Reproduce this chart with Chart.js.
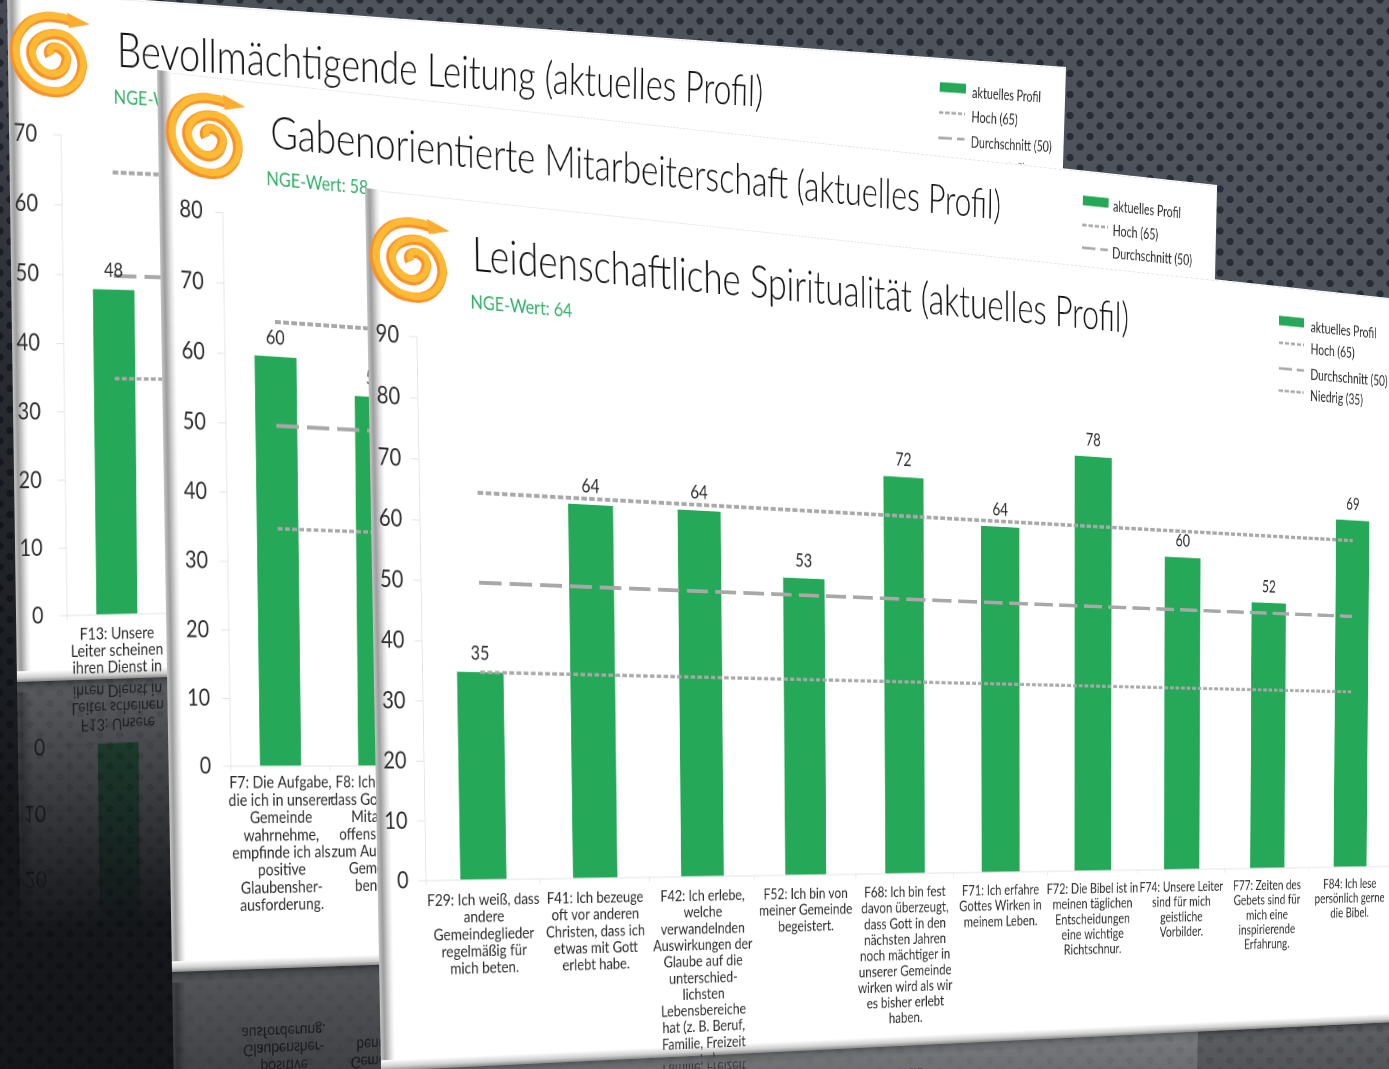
<!DOCTYPE html>
<html>
<head>
<meta charset="utf-8">
<title>NGE Profil</title>
<script src="https://cdn.jsdelivr.net/npm/chart.js@4/dist/chart.umd.min.js"></script>
<style>
html, body { margin: 0; width: 1389px; height: 1069px; overflow: hidden; }
body {
    position: relative;
    background-color: #4e525b;
    background-image:
        linear-gradient(200deg, rgba(10,12,15,0) 25%, rgba(10,12,15,.55) 55%, rgba(10,12,15,.85) 85%),
        radial-gradient(circle at center, #282c36 3.3px, rgba(40,44,54,0) 4px),
        radial-gradient(circle at center, #282c36 3.3px, rgba(40,44,54,0) 4px);
    background-size: auto, 20px 21px, 20px 21px;
    background-position: 0 0, 0 0, 10px 10.5px;
}
.slide {
    position: absolute; left: 0; top: 0;
    background: #fff;
    overflow: hidden;
    transform-origin: 0 0;
    -webkit-box-reflect: below 0 linear-gradient(to bottom, rgba(255,255,255,0) 62%, rgba(255,255,255,.27) 100%);
}
.slide canvas { position: absolute; left: 0; top: 0; }
.bevelLeft { position: absolute; left: 0; top: 0; bottom: 0; width: 17px; background: linear-gradient(to right, #c4c4c4 0, #9c9c9c 30%, #e4e4e4 75%, #fff 100%); }
.bevelBottom { position: absolute; left: 0; right: 0; bottom: 0; height: 11px; background: linear-gradient(to bottom, #fff 0, #d0d0d0 60%, #8a8a8a 100%); }
.topLine { position: absolute; left: 17px; right: 0; top: 1px; border-top: 1px dotted #dcdcdc; }
.title { position: absolute; font-family: Lato, sans-serif; font-weight: 300; color: #111; white-space: nowrap; transform: translateY(-50%); }
.nge { position: absolute; font: 400 20px Lato, sans-serif; color: #2fae65; white-space: nowrap; transform: translateY(-50%); }
.logo { position: absolute; }
.legendRow { position: absolute; font: 400 17.5px Lato, sans-serif; color: #2a2a2a; white-space: nowrap; transform: translateY(-50%); }
.legendKey { position: absolute; transform: translateY(-50%); }
</style>
</head>
<body>
<script>
var barName = 'aktuelles Profil';
var hochName = 'Hoch (65)';
var mittelName = 'Durchschnitt (50)';
var niedrigName = 'Niedrig (35)';

var title1 = 'Bevollmächtigende Leitung (aktuelles Profil)';
var nge1 = 'NGE-Wert: 48';
var labels1 = [['F13: Unsere', 'Leiter scheinen', 'ihren Dienst in'], ['']];
var values1 = [48, null];
var hoch1 = [65, 65];
var mittel1 = [50, 50];
var niedrig1 = [35, 35];
var yMax1 = 70;

var title2 = 'Gabenorientierte Mitarbeiterschaft (aktuelles Profil)';
var nge2 = 'NGE-Wert: 58';
var labels2 = [
    ['F7: Die Aufgabe,', 'die ich in unserer', 'Gemeinde', 'wahrnehme,', 'empfinde ich als', 'positive', 'Glaubensher-', 'ausforderung.'],
    ['F8: Ich glaube,', 'dass Gott meine', 'Mitarbeit', 'offensichtlich', 'zum Aufbau der', 'Gemeinde', 'benutzt.']
];
var values2 = [60, 55];
var hoch2 = [65, 65];
var mittel2 = [50, 50];
var niedrig2 = [35, 35];
var yMax2 = 80;

var title3 = 'Leidenschaftliche Spiritualität (aktuelles Profil)';
var nge3 = 'NGE-Wert: 64';
var labels3 = [
    ['F29: Ich weiß, dass', 'andere', 'Gemeindeglieder', 'regelmäßig für', 'mich beten.'],
    ['F41: Ich bezeuge', 'oft vor anderen', 'Christen, dass ich', 'etwas mit Gott', 'erlebt habe.'],
    ['F42: Ich erlebe,', 'welche', 'verwandelnden', 'Auswirkungen der', 'Glaube auf die', 'unterschied-', 'lichsten', 'Lebensbereiche', 'hat (z. B. Beruf,', 'Familie, Freizeit', 'etc.)'],
    ['F52: Ich bin von', 'meiner Gemeinde', 'begeistert.'],
    ['F68: Ich bin fest', 'davon überzeugt,', 'dass Gott in den', 'nächsten Jahren', 'noch mächtiger in', 'unserer Gemeinde', 'wirken wird als wir', 'es bisher erlebt', 'haben.'],
    ['F71: Ich erfahre', 'Gottes Wirken in', 'meinem Leben.'],
    ['F72: Die Bibel ist in', 'meinen täglichen', 'Entscheidungen', 'eine wichtige', 'Richtschnur.'],
    ['F74: Unsere Leiter', 'sind für mich', 'geistliche', 'Vorbilder.'],
    ['F77: Zeiten des', 'Gebets sind für', 'mich eine', 'inspirierende', 'Erfahrung.'],
    ['F84: Ich lese', 'persönlich gerne', 'die Bibel.']
];
var values3 = [35, 64, 64, 53, 72, 64, 78, 60, 52, 69];
var hoch3 = [65, 65, 65, 65, 65, 65, 65, 65, 65, 65];
var mittel3 = [50, 50, 50, 50, 50, 50, 50, 50, 50, 50];
var niedrig3 = [35, 35, 35, 35, 35, 35, 35, 35, 35, 35];
var yMax3 = 90;

var barColor = '#25a857';
var lineColor = '#a8a8a8';
var textColor = '#2c2c2c';
var axisColor = '#e2e2e2';

// computes the css matrix that maps a w x h box onto four screen corners (tl, tr, br, bl)
function quadMatrix(w, h, q) {
    var dx1 = q[1][0] - q[2][0], dx2 = q[3][0] - q[2][0], sx = q[0][0] - q[1][0] + q[2][0] - q[3][0];
    var dy1 = q[1][1] - q[2][1], dy2 = q[3][1] - q[2][1], sy = q[0][1] - q[1][1] + q[2][1] - q[3][1];
    var det = dx1 * dy2 - dx2 * dy1;
    var g = (sx * dy2 - dx2 * sy) / det;
    var k = (dx1 * sy - sx * dy1) / det;
    var a = q[1][0] - q[0][0] + g * q[1][0];
    var b = q[3][0] - q[0][0] + k * q[3][0];
    var d = q[1][1] - q[0][1] + g * q[1][1];
    var e = q[3][1] - q[0][1] + k * q[3][1];
    return 'matrix3d(' + [a / w, d / w, 0, g / w, b / h, e / h, 0, k / h, 0, 0, 1, 0, q[0][0], q[0][1], 0, 1].join(',') + ')';
}

var valueLabels = {
    id: 'valueLabels',
    afterDatasetsDraw: function(chart) {
        var ctx = chart.ctx;
        var bars = chart.getDatasetMeta(0).data;
        var vals = chart.data.datasets[0].data;
        ctx.save();
        ctx.font = '20px Lato, sans-serif';
        ctx.fillStyle = textColor;
        ctx.textAlign = 'center';
        ctx.textBaseline = 'bottom';
        bars.forEach(function(bar, i) {
            if (vals[i] !== null) {
                ctx.fillText(vals[i], bar.x, bar.y - 9);
            }
        });
        ctx.restore();
    }
};

function spiralLogo(x, y, w, h) {
    var ns = 'http://www.w3.org/2000/svg';
    var svg = document.createElementNS(ns, 'svg');
    svg.setAttribute('viewBox', '0 0 100 100');
    svg.setAttribute('preserveAspectRatio', 'none');
    svg.setAttribute('class', 'logo');
    svg.style.left = x + 'px';
    svg.style.top = y + 'px';
    svg.style.width = w + 'px';
    svg.style.height = h + 'px';
    var d = 'M50 52 C46 44 54 40 60 42 C68 44 72 52 70 58 C68 68 60 74 52 74 C38 74 28 62 27 50 C27 36 42 26 58 26 C76 26 90 44 90 62 C88 82 72 96 52 94 C28 94 8 74 7 50 C7 28 22 10 44 7 C54 5 64 7 76 9';
    [['#f6922a', 12, 0, 0], ['#fdba35', 8, 1.6, -1.6]].forEach(function(s) {
        var p = document.createElementNS(ns, 'path');
        p.setAttribute('d', d);
        p.setAttribute('fill', 'none');
        p.setAttribute('stroke', s[0]);
        p.setAttribute('stroke-width', s[1]);
        p.setAttribute('transform', 'translate(' + s[2] + ' ' + s[3] + ')');
        svg.appendChild(p);
    });
    var head = document.createElementNS(ns, 'polygon');
    head.setAttribute('points', '72,0 100,12 74,18');
    head.setAttribute('fill', '#fbab30');
    svg.appendChild(head);
    return svg;
}

function legendKey(type) {
    var ns = 'http://www.w3.org/2000/svg';
    var svg = document.createElementNS(ns, 'svg');
    svg.setAttribute('width', 42);
    svg.setAttribute('height', 12);
    svg.setAttribute('class', 'legendKey');
    var line = document.createElementNS(ns, 'line');
    line.setAttribute('x1', 0);
    line.setAttribute('x2', 42);
    line.setAttribute('y1', 6);
    line.setAttribute('y2', 6);
    if (type === 0) {
        line.setAttribute('stroke', barColor);
        line.setAttribute('stroke-width', 11);
    } else {
        line.setAttribute('stroke', lineColor);
        line.setAttribute('stroke-width', 3);
        line.setAttribute('stroke-dasharray', type === 2 ? '22 8' : '7 3');
    }
    svg.appendChild(line);
    return svg;
}

function addText(slide, cls, text, x, y) {
    var el = document.createElement('div');
    el.className = cls;
    el.textContent = text;
    el.style.left = x + 'px';
    el.style.top = y + 'px';
    slide.appendChild(el);
    return el;
}

function makeSlide(cfg) {
    var W = cfg.W, H = cfg.H;
    var slide = document.createElement('div');
    slide.className = 'slide';
    slide.style.width = W + 'px';
    slide.style.height = H + 'px';
    slide.style.transform = quadMatrix(W, H, cfg.quad);
    document.body.appendChild(slide);

    ['bevelLeft', 'bevelBottom', 'topLine'].forEach(function(cls) {
        var el = document.createElement('div');
        el.className = cls;
        slide.appendChild(el);
    });

    var canvas = document.createElement('canvas');
    canvas.width = W;
    canvas.height = H;
    canvas.style.width = W + 'px';
    canvas.style.height = H + 'px';
    slide.appendChild(canvas);

    slide.appendChild(spiralLogo(cfg.logo[0], cfg.logo[1], 97, 84));
    var t = addText(slide, 'title', cfg.title, cfg.titlePos[0] * W, cfg.titlePos[1] * H);
    t.style.fontSize = cfg.titleSize + 'px';
    addText(slide, 'nge', cfg.nge, cfg.ngePos[0] * W, cfg.ngePos[1] * H);

    [barName, hochName, mittelName, niedrigName].forEach(function(name, i) {
        var key = legendKey(i);
        key.style.left = cfg.legendX[0] * W + 'px';
        key.style.top = (cfg.legendY[i] * H - 2.5) + 'px';
        slide.appendChild(key);
        addText(slide, 'legendRow', name, cfg.legendX[1] * W, cfg.legendY[i] * H);
    });

    var plotLeft = cfg.plot[0] * W, plotRight = cfg.plot[1] * W;
    var plotTop = cfg.plot[2] * H, plotBottom = cfg.plot[3] * H;

    new Chart(canvas.getContext('2d'), {
        type: 'bar',
        data: {
            labels: cfg.labels,
            datasets: [
                { type: 'bar', label: barName, data: cfg.values, backgroundColor: barColor, categoryPercentage: 1, barPercentage: cfg.barPct, order: 2 },
                { type: 'line', label: hochName, data: cfg.hoch, borderColor: lineColor, borderWidth: 4, borderDash: [7, 3], pointRadius: 0, order: 1 },
                { type: 'line', label: mittelName, data: cfg.mittel, borderColor: lineColor, borderWidth: 4, borderDash: [28, 10], pointRadius: 0, order: 1 },
                { type: 'line', label: niedrigName, data: cfg.niedrig, borderColor: lineColor, borderWidth: 3.5, borderDash: [6, 3], pointRadius: 0, order: 1 }
            ]
        },
        options: {
            responsive: false,
            animation: false,
            devicePixelRatio: 2,
            layout: { padding: { top: plotTop, right: W - plotRight, bottom: 0, left: 0 } },
            plugins: { legend: { display: false }, tooltip: { enabled: false } },
            scales: {
                x: {
                    grid: { drawOnChartArea: false, offset: true, tickLength: 5, color: axisColor },
                    border: { color: axisColor },
                    ticks: {
                        autoSkip: false, maxRotation: 0, minRotation: 0, padding: cfg.xPad,
                        color: textColor,
                        font: { family: 'Lato, sans-serif', size: cfg.xFont, lineHeight: cfg.xLine }
                    },
                    afterFit: function(scale) { scale.height = H - plotBottom; }
                },
                y: {
                    min: 0,
                    max: cfg.yMax,
                    grid: { drawOnChartArea: false, tickLength: 9, color: axisColor },
                    border: { color: axisColor },
                    ticks: {
                        stepSize: 10, padding: cfg.yPad,
                        color: textColor,
                        font: { family: 'Lato, sans-serif', size: 24 }
                    },
                    afterFit: function(scale) { scale.width = plotLeft; }
                }
            }
        },
        plugins: [valueLabels]
    });
}

makeSlide({
    W: 1482, H: 692,
    quad: [[7, -10], [1066, 67], [1048, 648], [17, 682]],
    logo: [1, 18],
    title: title1, nge: nge1, titleSize: 47,
    titlePos: [0.088, 0.072], ngePos: [0.085, 0.14],
    labels: labels1, values: values1, hoch: hoch1, mittel: mittel1, niedrig: niedrig1, yMax: yMax1,
    plot: [0.042, 0.208, 0.201, 0.903], barPct: 0.415,
    xFont: 17.4, xLine: 1.015, xPad: 6, yPad: 20,
    legendX: [0.862, 0.897], legendY: [0.052, 0.0925, 0.1345, 0.175]
});

makeSlide({
    W: 1500, H: 902,
    quad: [[157, 70], [1217, 185], [1200, 936], [172, 972]],
    logo: [8, 17],
    title: title2, nge: nge2, titleSize: 46,
    titlePos: [0.09, 0.052], ngePos: [0.0864, 0.1045],
    labels: labels2, values: values2, hoch: hoch2, mittel: mittel2, niedrig: niedrig2, yMax: yMax2,
    plot: [0.0505, 0.2165, 0.148, 0.766], barPct: 0.415,
    xFont: 17.5, xLine: 1.04, xPad: 3, yPad: 15,
    legendX: [0.852, 0.885], legendY: [0.04, 0.071, 0.1, 0.134]
});

makeSlide({
    W: 1850, H: 882,
    quad: [[365, 188], [1600, 320.5], [1590, 1012.5], [381, 1071]],
    logo: [3, 24],
    title: title3, nge: nge3, titleSize: 46.5,
    titlePos: [0.0687, 0.06], ngePos: [0.067, 0.1145],
    labels: labels3, values: values3, hoch: hoch3, mittel: mittel3, niedrig: niedrig3, yMax: yMax3,
    plot: [0.0315, 0.7975, 0.161, 0.781], barPct: 0.405,
    xFont: 16.8, xLine: 1.05, xPad: 7, yPad: 12,
    legendX: [0.69, 0.719], legendY: [0.0487, 0.078, 0.112, 0.141]
});
</script>
</body>
</html>
